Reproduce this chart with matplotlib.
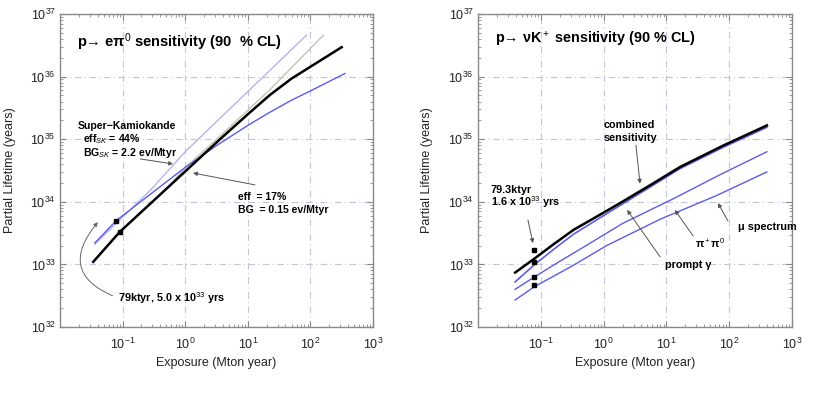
import math
import matplotlib
matplotlib.use("Agg")
import matplotlib.pyplot as plt
from matplotlib.ticker import FixedLocator, LogLocator, NullFormatter, FuncFormatter

plt.rcParams['font.family'] = ['Liberation Sans', 'DejaVu Sans']
plt.rcParams['mathtext.fontset'] = 'custom'
plt.rcParams['mathtext.rm'] = 'Liberation Sans'
plt.rcParams['mathtext.it'] = 'Liberation Sans:italic'
plt.rcParams['mathtext.bf'] = 'Liberation Sans:bold'

# ---------------- data: left panel  p -> e pi0 ----------------
e_lav_x = [0.036, 0.29, 1.0, 15.7, 87]
e_lav_y = [2.1e33, 1.6e34, 6.3e34, 8.9e35, 4.6e36]

e_grey_x = [0.48, 1.0, 3.6, 22.6, 162]
e_grey_y = [1.55e34, 3.5e34, 1.12e35, 6.2e35, 4.6e36]

e_black_x = [0.034, 0.09, 0.48, 3.6, 10.0, 22.6, 50, 126, 316]
e_black_y = [1.1e33, 3.3e33, 1.55e34, 1.0e35, 2.5e35, 5.1e35, 9.3e35, 1.66e36, 2.95e36]

e_blue_x = [0.036, 0.079, 0.35, 1.0, 3.16, 10.0, 22.6, 50, 100, 355]
e_blue_y = [2.2e33, 5.0e33, 1.58e34, 3.55e34, 7.9e34, 1.66e35, 2.7e35, 4.2e35, 5.9e35, 1.12e36]

e_mark_x = [0.079, 0.09]
e_mark_y = [5.0e33, 3.3e33]

# ---------------- data: right panel  p -> nu K+ ----------------
k_black_x = [0.039, 0.076, 0.16, 0.33, 0.8, 1.82, 5.6, 16.5, 80, 398]
k_black_y = [7.4e32, 1.2e33, 2.1e33, 3.55e33, 5.9e33, 9.5e33, 1.86e34, 3.6e34, 7.9e34, 1.66e35]

k_gamma_x = [0.039, 0.076, 0.16, 0.33, 0.8, 1.82, 5.6, 16.5, 80, 398]
k_gamma_y = [5.25e32, 9.55e32, 1.74e33, 3.02e33, 5.25e33, 8.7e33, 1.74e34, 3.39e34, 7.41e34, 1.55e35]

k_pipi_x = [0.039, 0.079, 0.2, 0.42, 2.0, 12.9, 71, 398]
k_pipi_y = [4.0e32, 6.3e32, 1.12e33, 1.74e33, 4.5e33, 1.12e34, 2.7e34, 6.3e34]

k_mu_x = [0.039, 0.079, 0.32, 1.12, 7.9, 63, 398]
k_mu_y = [2.7e32, 4.4e32, 9.5e32, 2.0e33, 5.25e33, 1.26e34, 3.0e34]

k_mark_x = [0.0793, 0.0793, 0.0793, 0.0793]
k_mark_y = [1.7e33, 1.08e33, 6.3e32, 4.7e32]

x_ticks = [1e-1, 1e0, 1e1, 1e2, 1e3]
y_ticks = [1e32, 1e33, 1e34, 1e35, 1e36, 1e37]

BLUE = '#5c5ce6'
LAV = '#b4b4f2'
GREY = '#c4c4b4'
ARROW = dict(arrowstyle='-|>', color='#555555', lw=0.7, mutation_scale=6,
             shrinkA=0, shrinkB=0)

fig = plt.figure(figsize=(8.17, 3.93), dpi=100)
ax1 = fig.add_axes([60 / 817, 1 - 327 / 393, 313 / 817, 313 / 393])
ax2 = fig.add_axes([478 / 817, 1 - 327 / 393, 314 / 817, 313 / 393])


def style(ax):
    ax.set_xscale('log')
    ax.set_yscale('log')
    ax.set_xlim(1e-2, 1e3)
    ax.set_ylim(1e32, 1e37)
    ax.xaxis.set_major_locator(FixedLocator(x_ticks))
    ax.yaxis.set_major_locator(FixedLocator(y_ticks))
    ax.xaxis.set_minor_locator(LogLocator(base=10, subs=range(2, 10), numticks=20))
    ax.yaxis.set_minor_locator(LogLocator(base=10, subs=range(2, 10), numticks=20))
    ax.xaxis.set_minor_formatter(NullFormatter())
    ax.yaxis.set_minor_formatter(NullFormatter())
    fmt = FuncFormatter(lambda v, p: r'$10^{%d}$' % round(math.log10(v)))
    ax.xaxis.set_major_formatter(fmt)
    ax.yaxis.set_major_formatter(fmt)
    ax.tick_params(which='both', direction='in', top=True, right=True,
                   color='#888888', labelsize=9, labelcolor='#222222')
    ax.tick_params(which='major', length=4)
    ax.tick_params(which='minor', length=2)
    ax.tick_params(axis='x', pad=7)
    ax.tick_params(axis='y', pad=3)
    for s in ax.spines.values():
        s.set_color('#8a8a8a')
        s.set_linewidth(1.0)
    ax.grid(True, which='major', color='#c2c6dc', lw=0.8,
            linestyle=(0, (6, 3, 1, 3)))
    ax.set_xlabel('Exposure (Mton year)', fontsize=9, color='#222222')
    ax.set_ylabel('Partial Lifetime (years)', fontsize=9, color='#222222')


style(ax1)
style(ax2)
ax1.xaxis.set_label_coords(0.5, -0.095)
ax2.xaxis.set_label_coords(0.5, -0.095)
ax1.yaxis.set_label_coords(-0.14, 0.5)
ax2.yaxis.set_label_coords(-0.143, 0.5)

# ---------- left panel ----------
ax1.plot(e_lav_x, e_lav_y, color=LAV, lw=1.0)
ax1.plot(e_grey_x, e_grey_y, color=GREY, lw=1.0)
ax1.plot(e_blue_x, e_blue_y, color=BLUE, lw=1.0)
ax1.plot(e_black_x, e_black_y, color='black', lw=1.8)
ax1.plot(e_mark_x, e_mark_y, 's', color='black', ms=2.5)

t = ax1.transAxes
ax1.text(0.054, 0.911, 'p→ eπ$^0$ sensitivity (90  % CL)', transform=t,
         fontsize=10.5, fontweight='bold', va='center', ha='left')
ax1.text(0.058, 0.642, 'Super−Kamiokande', transform=t, fontsize=7.6,
         fontweight='bold', va='center')
ax1.text(0.075, 0.601, r'eff$_{SK}$ = 44%', transform=t, fontsize=7.6,
         fontweight='bold', va='center')
ax1.text(0.075, 0.556, r'BG$_{SK}$ = 2.2 ev/Mtyr', transform=t, fontsize=7.6,
         fontweight='bold', va='center')
ax1.annotate('', xy=(0.361, 0.521), xytext=(0.256, 0.537),
             xycoords=t, textcoords=t, arrowprops=ARROW)
ax1.text(0.569, 0.415, 'eff  = 17%', transform=t, fontsize=7.6,
         fontweight='bold', va='center')
ax1.text(0.569, 0.374, 'BG  = 0.15 ev/Mtyr', transform=t, fontsize=7.6,
         fontweight='bold', va='center')
ax1.annotate('', xy=(0.425, 0.492), xytext=(0.623, 0.454),
             xycoords=t, textcoords=t, arrowprops=ARROW)
ax1.annotate('79ktyr, 5.0 x 10$^{33}$ yrs', xy=(0.121, 0.335),
             xytext=(0.185, 0.093), xycoords=t, textcoords=t,
             fontsize=7.8, fontweight='bold', va='center', ha='left',
             arrowprops=dict(arrowstyle='-|>', color='#666666', lw=0.7,
                             mutation_scale=6, shrinkA=2, shrinkB=0,
                             relpos=(0, 0.5),
                             connectionstyle='arc3,rad=-0.7'))

# ---------- right panel ----------
ax2.plot(k_mu_x, k_mu_y, color=BLUE, lw=1.0)
ax2.plot(k_pipi_x, k_pipi_y, color=BLUE, lw=1.0)
ax2.plot(k_gamma_x, k_gamma_y, color=BLUE, lw=1.2)
ax2.plot(k_black_x, k_black_y, color='black', lw=1.8)
ax2.plot(k_mark_x, k_mark_y, 's', color='black', ms=2.5)

t = ax2.transAxes
ax2.text(0.054, 0.917, 'p→ νK$^+$ sensitivity (90 % CL)', transform=t,
         fontsize=10.4, fontweight='bold', va='center', ha='left')
ax2.text(0.40, 0.645, 'combined', transform=t, fontsize=7.8,
         fontweight='bold', va='center')
ax2.text(0.40, 0.604, 'sensitivity', transform=t, fontsize=7.8,
         fontweight='bold', va='center')
ax2.annotate('', xy=(0.516, 0.458), xytext=(0.503, 0.581),
             xycoords=t, textcoords=t, arrowprops=ARROW)
ax2.text(0.041, 0.438, '79.3ktyr', transform=t, fontsize=7.8,
         fontweight='bold', va='center')
ax2.text(0.041, 0.399, '1.6 x 10$^{33}$ yrs', transform=t, fontsize=7.8,
         fontweight='bold', va='center')
ax2.annotate('', xy=(0.175, 0.268), xytext=(0.159, 0.342),
             xycoords=t, textcoords=t, arrowprops=ARROW)
ax2.text(0.596, 0.198, 'prompt γ', transform=t, fontsize=7.8,
         fontweight='bold', va='center')
ax2.annotate('', xy=(0.475, 0.374), xytext=(0.580, 0.224),
             xycoords=t, textcoords=t, arrowprops=ARROW)
ax2.text(0.691, 0.268, 'π$^+$π$^0$', transform=t, fontsize=7.8,
         fontweight='bold', va='center')
ax2.annotate('', xy=(0.627, 0.374), xytext=(0.685, 0.291),
             xycoords=t, textcoords=t, arrowprops=ARROW)
ax2.text(0.828, 0.319, 'μ spectrum', transform=t, fontsize=7.8,
         fontweight='bold', va='center')
ax2.annotate('', xy=(0.764, 0.396), xytext=(0.796, 0.339),
             xycoords=t, textcoords=t, arrowprops=ARROW)

fig.savefig('out.png', dpi=100)
